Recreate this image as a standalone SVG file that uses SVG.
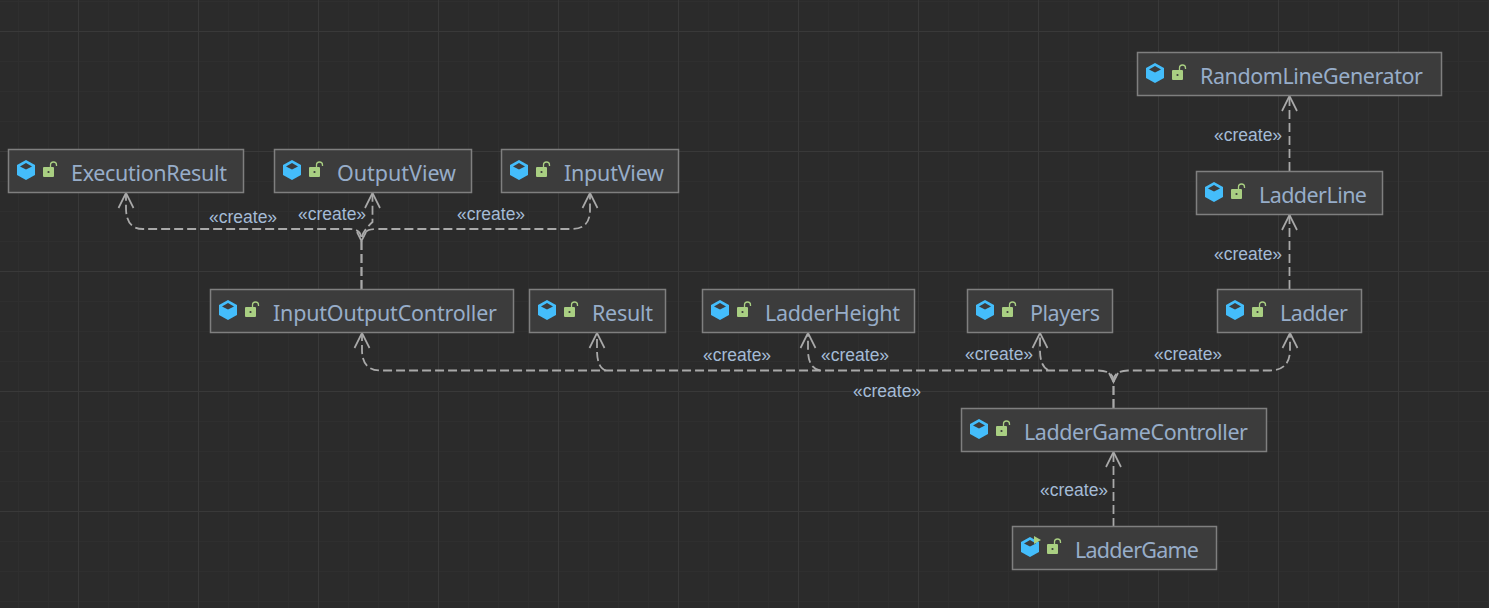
<svg xmlns="http://www.w3.org/2000/svg" width="1489" height="608" viewBox="0 0 1489 608">
<style>
.n{fill:#3c3c3c;stroke:#7f7f7f;stroke-width:1.5}
.t{font:21.5px "Noto Sans","Open Sans",sans-serif;fill:#97adc9}
.l{font:17.500px "Liberation Sans",Arial,sans-serif;fill:#a4bbd6}
.c{fill:none;stroke:#a9a9a9;stroke-width:1.800;stroke-dasharray:9 4}
.a{fill:none;stroke:#a9a9a9;stroke-width:1.700}
.minor{stroke:#2f2f2f;stroke-width:1}
.major{stroke:#393939;stroke-width:1}
</style>
<defs>
<pattern id="g1" width="30" height="30" patternUnits="userSpaceOnUse" x="18" y="1"><path d="M.5 0V30M0 .5H30" class="minor" fill="none"/></pattern>
<pattern id="g2" width="120" height="120" patternUnits="userSpaceOnUse" x="78" y="31"><path d="M.5 0V120M0 .5H120" class="major" fill="none"/></pattern>
<g id="ic">
<path d="M0 -10L9 -5V5L0 10L-9 5V-5Z" fill="#44bdfb"/>
<path d="M0 -7L6 -3.500L0 -.5L-6 -3.500Z" fill="#3c3c3c"/>
<rect x="17" y="-3" width="11" height="10" rx="1" fill="#a9cf82"/>
<path d="M24.500 -3V-5A3 3 0 0 1 30.500 -5V-4" fill="none" stroke="#a9cf82" stroke-width="1.300"/>
<circle cx="22.500" cy="2" r="1.100" fill="#3c3c3c"/>
</g>
<path id="ah" d="M-7.500 15L0 0L7.500 15"/>
</defs>
<rect width="1489" height="608" fill="#2b2b2b"/>
<rect width="1489" height="608" fill="url(#g1)"/>
<rect width="1489" height="608" fill="url(#g2)"/>
<g id="connectors">
<path class="c" d="M361.500 289V240Q361.500 229 350 229H143Q126 229 126 208V193"/>
<path class="c" d="M361.500 289V240Q361.500 232 372.500 222V193"/>
<path class="c" d="M366 232Q368 229 378 229H572Q590 229 590 210V193"/>
<path class="c" d="M1113.500 408V380Q1113 371 1098 370.500H380Q362 370 362 350V333"/>
<path class="c" d="M606 370.500Q597 368 597 350V333"/>
<path class="c" d="M820 370.500Q808 368 808 350V333"/>
<path class="c" d="M1048 370Q1040 366 1040 350V333"/>
<path class="c" d="M1113.500 408V380Q1114 371 1128 370.500H1270Q1290 370 1290 350V333"/>
<path class="c" d="M1113.500 527V452"/>
<path class="c" d="M1289.500 289V215"/>
<path class="c" d="M1289.500 171V96"/>
<use href="#ah" class="a" x="126" y="193"/>
<use href="#ah" class="a" x="372.500" y="193"/>
<use href="#ah" class="a" x="590" y="193"/>
<use href="#ah" class="a" x="362" y="333"/>
<use href="#ah" class="a" x="597" y="333"/>
<use href="#ah" class="a" x="808" y="333"/>
<use href="#ah" class="a" x="1040" y="333"/>
<use href="#ah" class="a" x="1290" y="333"/>
<use href="#ah" class="a" x="1113.500" y="452"/>
<use href="#ah" class="a" x="1289.500" y="215"/>
<use href="#ah" class="a" x="1289.500" y="96"/>
<path class="a" d="M357 232L361.500 241L366 232"/>
<path class="a" d="M1109 373L1113.500 382L1118 373"/>
<text class="l" x="209" y="223">«create»</text>
<text class="l" x="298" y="220">«create»</text>
<text class="l" x="457" y="220">«create»</text>
<text class="l" x="703" y="361">«create»</text>
<text class="l" x="821" y="361">«create»</text>
<text class="l" x="965" y="360">«create»</text>
<text class="l" x="1154" y="360">«create»</text>
<text class="l" x="853" y="397">«create»</text>
<text class="l" x="1040" y="496">«create»</text>
<text class="l" x="1214" y="141">«create»</text>
<text class="l" x="1214" y="260">«create»</text>
</g>
<g id="ExecutionResult"><rect class="n" x="8.500" y="149.500" width="235" height="43"/><use href="#ic" x="26" y="170"/><text class="t" x="71" y="181" textLength="156">ExecutionResult</text></g>
<g id="OutputView"><rect class="n" x="274.500" y="149.500" width="197" height="43"/><use href="#ic" x="292" y="170"/><text class="t" x="337" y="181" textLength="119">OutputView</text></g>
<g id="InputView"><rect class="n" x="501.500" y="149.500" width="177" height="43"/><use href="#ic" x="519" y="170"/><text class="t" x="564" y="181" textLength="100">InputView</text></g>
<g id="InputOutputController"><rect class="n" x="210.500" y="289.500" width="303" height="43"/><use href="#ic" x="228" y="310"/><text class="t" x="273" y="321" textLength="224">InputOutputController</text></g>
<g id="Result"><rect class="n" x="529.500" y="289.500" width="136" height="43"/><use href="#ic" x="547" y="310"/><text class="t" x="592" y="321" textLength="61">Result</text></g>
<g id="LadderHeight"><rect class="n" x="702.500" y="289.500" width="212" height="43"/><use href="#ic" x="720" y="310"/><text class="t" x="765" y="321" textLength="135">LadderHeight</text></g>
<g id="Players"><rect class="n" x="967.500" y="289.500" width="145" height="43"/><use href="#ic" x="985" y="310"/><text class="t" x="1030" y="321" textLength="70">Players</text></g>
<g id="Ladder"><rect class="n" x="1217.500" y="289.500" width="144" height="43"/><use href="#ic" x="1235" y="310"/><text class="t" x="1280" y="321" textLength="68">Ladder</text></g>
<g id="LadderGameController"><rect class="n" x="961.500" y="408.500" width="305" height="43"/><use href="#ic" x="979" y="429"/><text class="t" x="1024" y="440" textLength="224">LadderGameController</text></g>
<g id="LadderGame"><rect class="n" x="1012.500" y="526.500" width="204" height="43"/><use href="#ic" x="1030" y="547"/><path d="M1034 536L1041 540L1034 544Z" fill="#a9cf82"/><text class="t" x="1075" y="558" textLength="124">LadderGame</text></g>
<g id="RandomLineGenerator"><rect class="n" x="1137.500" y="52.500" width="304" height="43"/><use href="#ic" x="1155" y="73"/><text class="t" x="1200" y="84" textLength="223">RandomLineGenerator</text></g>
<g id="LadderLine"><rect class="n" x="1196.500" y="171.500" width="186" height="43"/><use href="#ic" x="1214" y="192"/><text class="t" x="1259" y="203" textLength="108">LadderLine</text></g>
</svg>
